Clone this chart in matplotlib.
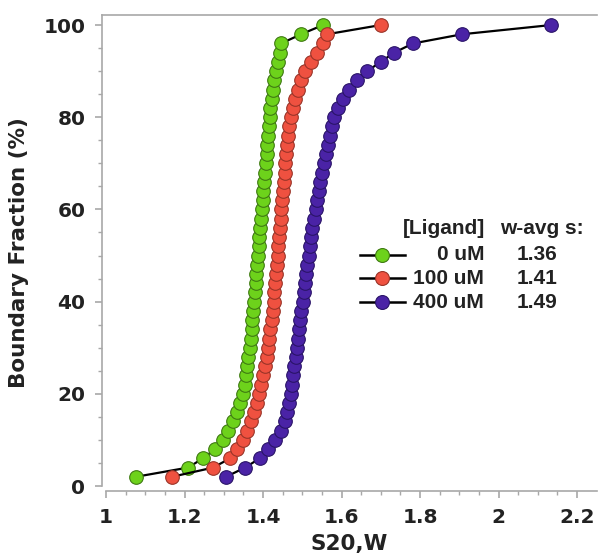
import matplotlib
matplotlib.use("Agg")
import matplotlib.pyplot as plt
from matplotlib.lines import Line2D

# Boundary fraction (%) at which each sedimentation coefficient was evaluated
boundary_fraction = list(range(2, 101, 2))

# van Holde-Weischet integral distributions, S20,W per boundary fraction
s_0uM = [1.076, 1.209, 1.247, 1.278, 1.298, 1.311, 1.324, 1.333, 1.341, 1.348,
         1.353, 1.357, 1.360, 1.363, 1.366, 1.369, 1.371, 1.373, 1.375, 1.377,
         1.379, 1.381, 1.383, 1.385, 1.387, 1.389, 1.391, 1.393, 1.395, 1.397,
         1.399, 1.401, 1.403, 1.405, 1.407, 1.409, 1.411, 1.413, 1.415, 1.417,
         1.419, 1.422, 1.425, 1.429, 1.433, 1.438, 1.443, 1.446, 1.497, 1.553]
s_100uM = [1.168, 1.273, 1.316, 1.334, 1.349, 1.360, 1.370, 1.378, 1.385, 1.391,
           1.396, 1.401, 1.405, 1.409, 1.413, 1.416, 1.419, 1.422, 1.425, 1.427,
           1.429, 1.431, 1.433, 1.435, 1.437, 1.439, 1.441, 1.443, 1.445, 1.447,
           1.449, 1.451, 1.453, 1.455, 1.457, 1.459, 1.461, 1.464, 1.467, 1.471,
           1.476, 1.482, 1.489, 1.497, 1.507, 1.522, 1.538, 1.552, 1.563, 1.700]
s_400uM = [1.306, 1.354, 1.392, 1.413, 1.430, 1.445, 1.455, 1.462, 1.467, 1.471,
           1.474, 1.477, 1.480, 1.483, 1.486, 1.489, 1.492, 1.495, 1.498, 1.501,
           1.504, 1.507, 1.510, 1.513, 1.516, 1.519, 1.522, 1.526, 1.530, 1.534,
           1.538, 1.542, 1.546, 1.551, 1.556, 1.561, 1.566, 1.571, 1.576, 1.581,
           1.590, 1.603, 1.618, 1.640, 1.665, 1.700, 1.734, 1.782, 1.907, 2.134]

ligand_labels = ["0 uM", "100 uM", "400 uM"]
wavg_s = ["1.36", "1.41", "1.49"]
series = [s_0uM, s_100uM, s_400uM]
face_colors = ["#6dd21b", "#ef5140", "#4a23a6"]
edge_colors = ["#3f7a12", "#9a3428", "#2a1468"]

x_ticks = [1, 1.2, 1.4, 1.6, 1.8, 2, 2.2]
x_tick_labels = ["1", "1.2", "1.4", "1.6", "1.8", "2", "2.2"]
y_ticks = [0, 20, 40, 60, 80, 100]

fig = plt.figure(figsize=(5.99, 5.59), dpi=100)
ax = fig.add_axes([0.1703, 0.1216, 0.8264, 0.8515])

for xs, fc, ec in zip(series, face_colors, edge_colors):
    ax.plot(xs, boundary_fraction, color="black", lw=1.6, zorder=2,
            marker="o", markersize=9.8, markerfacecolor=fc,
            markeredgecolor=ec, markeredgewidth=0.8)

ax.set_xlim(0.9898, 2.251)
ax.set_ylim(-1.085, 102.17)

spine_color = "#a8a8a8"
for side in ["left", "bottom", "top"]:
    ax.spines[side].set_color(spine_color)
    ax.spines[side].set_linewidth(1.2)
ax.spines["right"].set_visible(False)
ax.spines["left"].set_bounds(0, 102.17)
ax.spines["bottom"].set_bounds(1, 2.251)

ax.set_xticks(x_ticks)
ax.set_xticklabels(x_tick_labels)
ax.set_yticks(y_ticks)
ax.set_xticks([1 + 0.05 * i for i in range(25) if i % 4], minor=True)
ax.set_yticks([5 * i for i in range(21) if i % 4], minor=True)

for lab in ax.get_xticklabels() + ax.get_yticklabels():
    lab.set_fontfamily("DejaVu Sans")
    lab.set_fontweight("bold")
    lab.set_fontsize(14.5)
    lab.set_color("#222222")
ax.tick_params(which="major", direction="out", length=5, width=1.2,
               color=spine_color, pad=7)
ax.tick_params(which="minor", direction="out", length=3, width=1.0,
               color=spine_color)

label_font = dict(family="DejaVu Sans", weight="bold", size=15.5, color="#222222")
ax.set_xlabel("S20,W", fontdict=label_font, labelpad=5)
ax.set_ylabel("Boundary Fraction (%)", fontdict=label_font, labelpad=10)

# Legend table: line/marker key, ligand concentration, weight-average s
leg_font = dict(family="Liberation Sans", weight="bold", size=15, color="#222222")
tr = ax.transAxes
ax.text(0.774, 0.5525, "[Ligand]", ha="right", va="center", transform=tr, **leg_font)
ax.text(0.804, 0.5525, "w-avg s:", ha="left", va="center", transform=tr, **leg_font)
row_y = [0.496, 0.4475, 0.397]
for yy, lab, val, fc, ec in zip(row_y, ligand_labels, wavg_s, face_colors, edge_colors):
    ax.add_line(Line2D([0.521, 0.612], [yy, yy], transform=tr, color="black",
                       lw=1.8, clip_on=False))
    ax.add_line(Line2D([0.566], [yy], transform=tr, marker="o", markersize=10,
                       markerfacecolor=fc, markeredgecolor=ec,
                       markeredgewidth=0.8, clip_on=False))
    ax.text(0.772, yy, lab, ha="right", va="center", transform=tr, **leg_font)
    ax.text(0.879, yy, val, ha="center", va="center", transform=tr, **leg_font)

fig.savefig("out.png", dpi=100)
